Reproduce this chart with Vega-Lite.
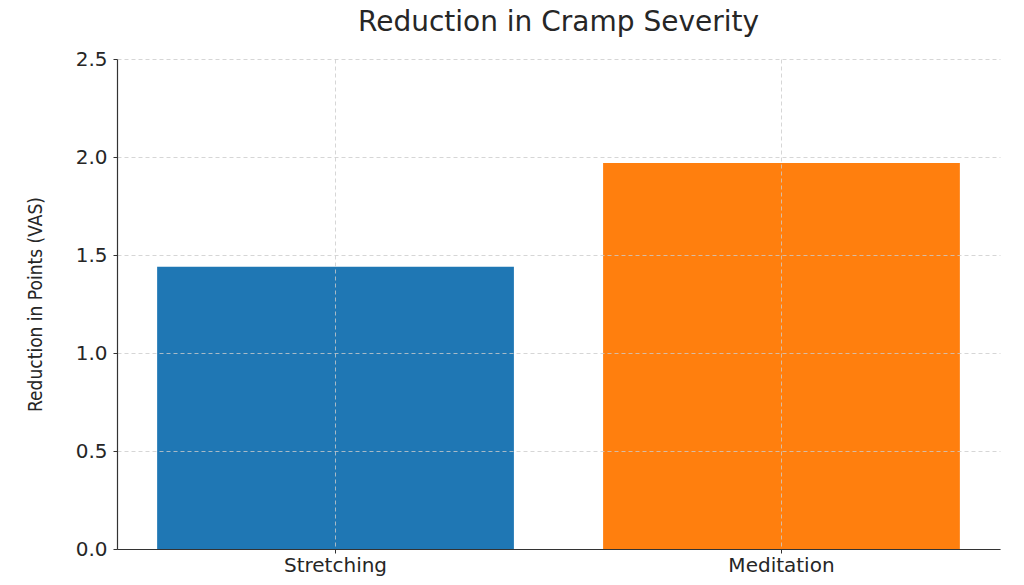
{
  "$schema": "https://vega.github.io/schema/vega-lite/v6.json",
  "autosize": "none",
  "width": 883,
  "height": 490,
  "padding": {"left": 117, "top": 59, "right": 24, "bottom": 36},
  "background": "white",
  "title": {
    "text": "Reduction in Cramp Severity",
    "font": "DejaVu Sans",
    "fontSize": 28,
    "fontWeight": "normal",
    "color": "#262626",
    "offset": 12,
    "anchor": "middle"
  },
  "config": {
    "view": {"stroke": null},
    "axis": {"labelFont": "DejaVu Sans", "titleFont": "DejaVu Sans"}
  },
  "data": {
    "values": [
      {"method": "Stretching", "reduction": 1.44},
      {"method": "Meditation", "reduction": 1.97}
    ]
  },
  "mark": {"type": "bar"},
  "encoding": {
    "x": {
      "field": "method",
      "type": "nominal",
      "sort": null,
      "scale": {"paddingInner": 0.2, "paddingOuter": 0.09},
      "axis": {
        "title": null,
        "labelAngle": 0,
        "labelFontSize": 20,
        "labelColor": "#262626",
        "labelPadding": 2,
        "grid": true,
        "bandPosition": 0.5,
        "gridColor": "#cccccc",
        "gridDash": [4, 3],
        "gridWidth": 0.8,
        "domainColor": "#333333",
        "domainWidth": 1.2,
        "ticks": true,
        "tickColor": "#333333",
        "tickSize": 4,
        "zindex": 1
      }
    },
    "y": {
      "field": "reduction",
      "type": "quantitative",
      "scale": {"domain": [0, 2.5], "nice": false},
      "axis": {
        "title": "Reduction in Points (VAS)",
        "titleFont": "DejaVu Sans Condensed",
        "titleFontSize": 19,
        "titleFontWeight": "normal",
        "titleColor": "#262626",
        "titlePadding": 30,
        "values": [0, 0.5, 1, 1.5, 2, 2.5],
        "format": ".1f",
        "labelFontSize": 20,
        "labelColor": "#262626",
        "labelPadding": 6,
        "grid": true,
        "gridColor": "#cccccc",
        "gridDash": [4, 3],
        "gridWidth": 0.8,
        "domainColor": "#333333",
        "domainWidth": 1.2,
        "tickColor": "#333333",
        "tickSize": 4,
        "zindex": 1
      }
    },
    "color": {
      "field": "method",
      "type": "nominal",
      "scale": {"domain": ["Stretching", "Meditation"], "range": ["#1f77b4", "#ff7f0e"]},
      "legend": null
    }
  }
}
